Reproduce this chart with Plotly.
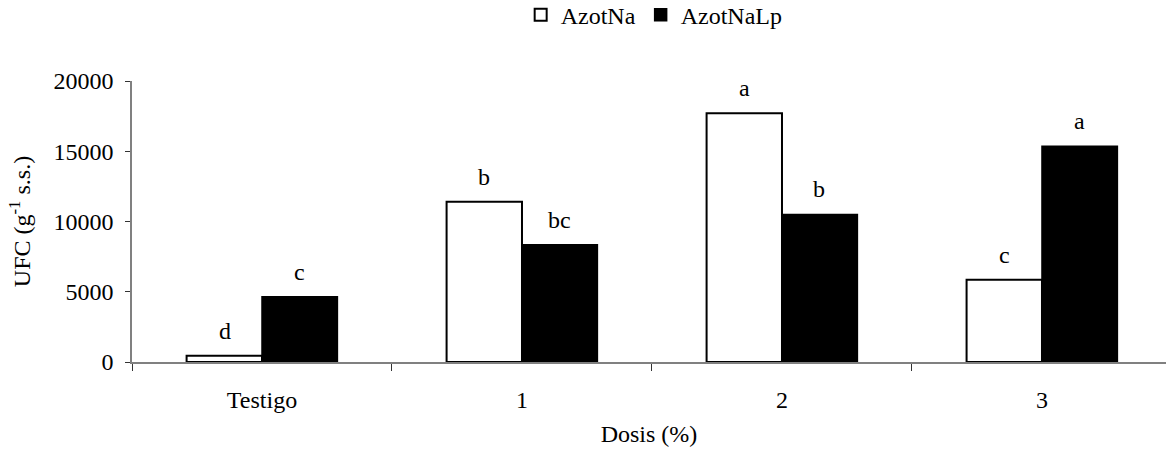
import plotly.graph_objects as go

categories = ["Testigo", "1", "2", "3"]
azotna = [450, 11400, 17700, 5850]
azotnalp = [4650, 8350, 10500, 15350]
letters_azotna = ["d", "b", "a", "c"]
letters_azotnalp = ["c", "bc", "b", "a"]

FONT = "Liberation Serif, Times New Roman, serif"
FS = 24

fig = go.Figure()
fig.add_trace(go.Bar(x=categories, y=azotna, name="AzotNa",
                     marker=dict(color="white", line=dict(color="black", width=2))))
fig.add_trace(go.Bar(x=categories, y=azotnalp, name="AzotNaLp",
                     marker=dict(color="black", line=dict(color="black", width=1.5))))

annotations = []
for c, v, t in zip(categories, azotna, letters_azotna):
    annotations.append(dict(x=c, y=v, text=t, xref="x", yref="y", showarrow=False,
                            xshift=-37.5, yshift=25, yanchor="middle",
                            font=dict(family=FONT, size=FS, color="black")))
for c, v, t in zip(categories, azotnalp, letters_azotnalp):
    annotations.append(dict(x=c, y=v, text=t, xref="x", yref="y", showarrow=False,
                            xshift=37.5, yshift=25, yanchor="middle",
                            font=dict(family=FONT, size=FS, color="black")))

fig.update_layout(
    width=1166, height=458,
    margin=dict(l=132, r=0, t=81, b=96),
    paper_bgcolor="white", plot_bgcolor="white",
    font=dict(family=FONT, size=FS, color="black"),
    barmode="group", bargap=0.42, bargroupgap=0,
    showlegend=True,
    legend=dict(orientation="h", x=0.505, xanchor="center", y=0.967, yref="container",
                yanchor="middle", font=dict(family=FONT, size=FS), itemwidth=30,
                traceorder="normal"),
    annotations=annotations,
)
fig.update_xaxes(type="category", range=[-0.5, 3.477], showline=True,
                 linecolor="#808080", linewidth=1.5, ticks="outside",
                 tickson="boundaries", ticklen=7, tickcolor="#333",
                 ticklabelstandoff=15,
                 showgrid=False, zeroline=False,
                 title=dict(text="Dosis (%)", standoff=14,
                            font=dict(family=FONT, size=FS)))
fig.update_yaxes(range=[0, 20000], tickvals=[0, 5000, 10000, 15000, 20000],
                 ticktext=["0", "5000", "10000", "15000", "20000"],
                 showline=True, linecolor="#808080", linewidth=1.5,
                 ticks="outside", ticklen=5, tickcolor="#333",
                 ticklabelstandoff=7,
                 showgrid=False, zeroline=False,
                 title=dict(text="UFC (g<sup>-1</sup> s.s.)", standoff=16,
                            font=dict(family=FONT, size=FS)))

fig.write_html("out.html")
